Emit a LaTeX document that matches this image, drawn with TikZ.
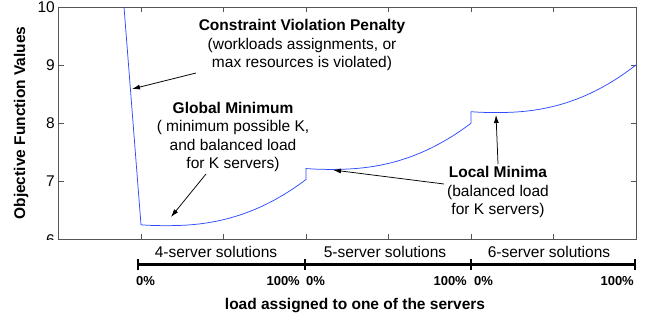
\documentclass[tikz,border=0pt]{standalone}
\usepackage{fontspec}
\setmainfont{Liberation Sans}
\usetikzlibrary{arrows.meta}
\definecolor{curveblue}{RGB}{45,75,255}
\definecolor{axisgray}{RGB}{85,85,85}

\begin{document}
\begin{tikzpicture}[x=1pt,y=-1pt,
  axisframe/.style={draw=axisgray, line width=0.9pt},
  tickmark/.style={draw=axisgray, line width=0.9pt},
  curve/.style={draw=curveblue, line width=0.75pt},
  note/.style={align=center, inner sep=0pt, font=\fontsize{15.5}{18.5}\selectfont},
  pointer/.style={draw=black, line width=0.75pt, -{Latex[length=8pt,width=5pt]}},
  ticklabel/.style={inner sep=0pt, anchor=east, font=\fontsize{15.5}{18}\selectfont},
  seglabel/.style={inner sep=0pt, font=\fontsize{15.5}{18}\selectfont},
  pctlabel/.style={inner sep=0pt, font=\bfseries\fontsize{13}{15}\selectfont},
  bracket/.style={draw=black, line width=3pt},
  bracketcap/.style={draw=black, line width=2pt}
]
\useasboundingbox (0,0) rectangle (647,320);

% axes box
\draw[axisframe] (58.5,7) rectangle (636,239);
\foreach \k in {1,...,6} {
  \draw[tickmark] ({58.5+82.5*\k},7) -- ++(0,5);
  \draw[tickmark] ({58.5+82.5*\k},239) -- ++(0,-5);
}
\foreach \yy in {65,123,181} {
  \draw[tickmark] (58.5,\yy) -- ++(5,0);
  \draw[tickmark] (636,\yy) -- ++(-5,0);
}

% y tick labels
\node[ticklabel] (t10) at (55,7) {10};
\node[ticklabel] (t9) at (55,65) {9};
\node[ticklabel] (t8) at (55,123) {8};
\node[ticklabel] (t7) at (55,181) {7};
\begin{scope}
  \clip (0,0) rectangle (58,239.5);
  \node[ticklabel] (t6) at (55,240) {6};
\end{scope}

% y axis title
\node[inner sep=0pt, rotate=90, font=\bfseries\fontsize{15.5}{18}\selectfont] (ytitle) at (21,123) {Objective Function Values};

% objective function curve
\draw[curve] (124,7)
  -- plot[domain=1:3, samples=60] ({58.5+82.5*\x},{239-58*(0.23+0.2346*(abs(\x-1.3)+0.001)^2.3)})
  -- plot[domain=3:5, samples=60] ({58.5+82.5*\x},{239-58*(1.2+0.2346*(abs(\x-3.3)+0.001)^2.3)})
  -- plot[domain=5:7, samples=60] ({58.5+82.5*\x},{239-58*(2.18+0.242*(abs(\x-5.3)+0.001)^2.3)});

% annotations
\node[note] (penalty) at (302,45) {\textbf{Constraint Violation Penalty}\\(workloads assignments, or\\max resources is violated)};
\node[note] (globalmin) at (233,137) {\textbf{Global Minimum}\\( minimum possible K,\\and balanced load\\for K servers)};
\node[note] (localmin) at (498,192) {\textbf{Local Minima}\\(balanced load\\for K servers)};

\coordinate (pA) at (196,73);
\coordinate (pB) at (132,89);
\coordinate (gA) at (206,174);
\coordinate (gB) at (171,217);
\coordinate (lA) at (498,164);
\coordinate (lB) at (496,115);
\coordinate (lC) at (444,184);
\coordinate (lD) at (333,170);
\draw[pointer] (pA) -- (pB);
\draw[pointer] (gA) -- (gB);
\draw[pointer] (lA) -- (lB);
\draw[pointer] (lC) -- (lD);

% solution ranges
\node[seglabel] (s4) at (216,252) {4-server solutions};
\node[seglabel] (s5) at (385,252) {5-server solutions};
\node[seglabel] (s6) at (549,252) {6-server solutions};

\coordinate (b0) at (138,264.5);
\coordinate (b1) at (304.5,264.5);
\coordinate (b2) at (470.5,264.5);
\coordinate (b3) at (635,264.5);
\draw[bracket] (b0) -- (b3);
\foreach \c in {b0,b1,b2,b3} {
  \draw[bracketcap] ([yshift=-5.5pt]\c) -- ([yshift=5.5pt]\c);
}

\node[pctlabel, anchor=west] (p40) at (136,281) {0\%};
\node[pctlabel, anchor=east] (p41) at (300,281) {100\%};
\node[pctlabel, anchor=west] (p50) at (306,281) {0\%};
\node[pctlabel, anchor=east] (p51) at (467,281) {100\%};
\node[pctlabel, anchor=west] (p60) at (474,281) {0\%};
\node[pctlabel, anchor=east] (p61) at (634,281) {100\%};

\node[inner sep=0pt, font=\bfseries\fontsize{15.5}{18}\selectfont] (xtitle) at (355,306) {load assigned to one of the servers};
\end{tikzpicture}
\end{document}
